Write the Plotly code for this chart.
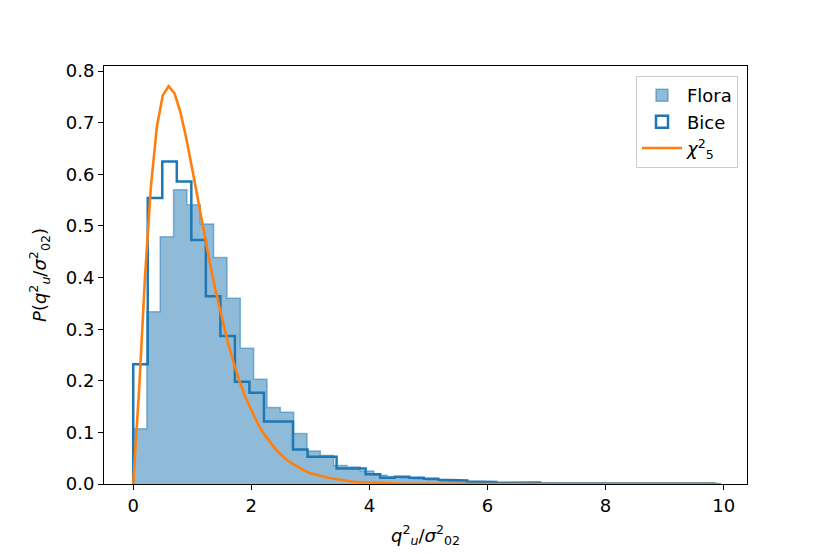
import numpy as np
import plotly.graph_objects as go

# histogram densities
flora_start = 0.005
flora_width = 0.226
flora = [0.107, 0.334, 0.479, 0.570, 0.541, 0.504, 0.439, 0.360, 0.263, 0.203,
         0.148, 0.139, 0.098, 0.064, 0.055, 0.036, 0.033, 0.025, 0.017, 0.014,
         0.012, 0.010, 0.008, 0.006, 0.005, 0.004, 0.004, 0.003, 0.002, 0.002,
         0.002, 0.001, 0.001, 0.001, 0.001, 0.001, 0.000, 0.001, 0.001, 0.001,
         0.000, 0.001, 0.001, 0.001]

bice_start = 0.0
bice_width = 0.246
bice = [0.232, 0.554, 0.625, 0.586, 0.473, 0.364, 0.287, 0.198, 0.177, 0.121,
        0.121, 0.067, 0.053, 0.053, 0.030, 0.030, 0.019, 0.012, 0.014, 0.012,
        0.010, 0.008, 0.007, 0.005, 0.004, 0.002, 0.002, 0.003, 0.001, 0.001,
        0.000, 0.001, 0.000, 0.001, 0.000, 0.000, 0.000, 0.000, 0.000, 0.001]

# chi2_5 curve (scaled), sampled points
chi_x = [0.0, 0.1, 0.2, 0.3, 0.4, 0.5, 0.6, 0.7, 0.8, 0.9, 1.0, 1.1, 1.2, 1.3, 1.4,
         1.5, 1.6, 1.7, 1.8, 1.9, 2.0, 2.1, 2.2, 2.3, 2.4, 2.5, 2.6, 2.7, 2.8, 2.9,
         3.0, 3.1, 3.2, 3.3, 3.4, 3.5, 3.6, 3.7, 3.8, 3.9, 4.0, 4.5, 5.0, 6.0, 7.0,
         8.0, 9.0, 9.9]
chi_y = [0.0, 0.183, 0.403, 0.577, 0.692, 0.753, 0.771, 0.757, 0.720, 0.669, 0.610,
         0.548, 0.487, 0.427, 0.372, 0.321, 0.276, 0.235, 0.199, 0.168, 0.142,
         0.119, 0.099, 0.083, 0.069, 0.057, 0.047, 0.039, 0.032, 0.026, 0.021,
         0.018, 0.014, 0.012, 0.010, 0.008, 0.006, 0.005, 0.004, 0.003, 0.003,
         0.001, 0.0003, 0.0, 0.0, 0.0, 0.0, 0.0]

C0 = "#1f77b4"
C0a = "rgba(31,119,180,0.5)"
C1 = "#ff7f0e"
FONT = "DejaVu Sans"
FS = 18


def step_xy(start, width, heights):
    edges = start + width * np.arange(len(heights) + 1)
    xs, ys = [edges[0]], [0.0]
    for i, h in enumerate(heights):
        xs += [edges[i], edges[i + 1]]
        ys += [h, h]
    xs.append(edges[-1])
    ys.append(0.0)
    return xs, ys


fx, fy = step_xy(flora_start, flora_width, flora)
bx, by = step_xy(bice_start, bice_width, bice)

fig = go.Figure()
fig.add_trace(go.Scatter(x=fx, y=fy, mode="lines", fill="tozeroy", fillcolor=C0a,
                         line=dict(color=C0a, width=1.5), showlegend=False,
                         hoverinfo="skip"))
fig.add_trace(go.Scatter(x=bx, y=by, mode="lines", line=dict(color=C0, width=2.5),
                         showlegend=False, hoverinfo="skip"))
fig.add_trace(go.Scatter(x=chi_x, y=chi_y, mode="lines", line=dict(color=C1, width=2.6),
                         showlegend=False))

# legend entries
fig.add_trace(go.Bar(x=[None], y=[None], name="Flora",
                     marker=dict(color=C0a, line=dict(color=C0a, width=1.5))))
fig.add_trace(go.Bar(x=[None], y=[None], name="Bice",
                     marker=dict(color="white", line=dict(color=C0, width=2.5))))
fig.add_trace(go.Scatter(x=[None], y=[None], mode="lines", name="<i>χ</i><sup>2</sup><sub>5</sub>",
                         line=dict(color=C1, width=2.6)))

axis_common = dict(showline=True, linecolor="black", linewidth=1, mirror=True,
                   ticks="outside", ticklen=5, tickwidth=1, tickcolor="black",
                   showgrid=False, zeroline=False,
                   tickfont=dict(family=FONT, size=FS, color="black"))

fig.update_layout(
    width=830, height=554,
    margin=dict(l=96, r=91, t=58, b=78),
    plot_bgcolor="white", paper_bgcolor="white",
    font=dict(family=FONT, size=FS, color="black"),
    barmode="overlay",
    xaxis=dict(range=[-0.495, 10.395], tickvals=[0, 2, 4, 6, 8, 10],
               title=dict(text="<i>q</i><sup>2</sup><sub><i>u</i></sub>/<i>σ</i><sup>2</sup><sub>02</sub>",
                          font=dict(family=FONT, size=FS), standoff=14),
               **axis_common),
    yaxis=dict(range=[0, 0.81], tickvals=[0, 0.1, 0.2, 0.3, 0.4, 0.5, 0.6, 0.7, 0.8],
               tickformat=".1f",
               title=dict(text="<i>P</i>(<i>q</i><sup>2</sup><sub><i>u</i></sub>/<i>σ</i><sup>2</sup><sub>02</sub>)",
                          font=dict(family=FONT, size=FS), standoff=14),
               **axis_common),
    legend=dict(x=0.986, y=0.976, xanchor="right", yanchor="top",
                bgcolor="rgba(255,255,255,0.8)", bordercolor="#cccccc", borderwidth=1,
                font=dict(family=FONT, size=FS), itemwidth=40, tracegroupgap=4),
)

fig.write_html("out.html")
